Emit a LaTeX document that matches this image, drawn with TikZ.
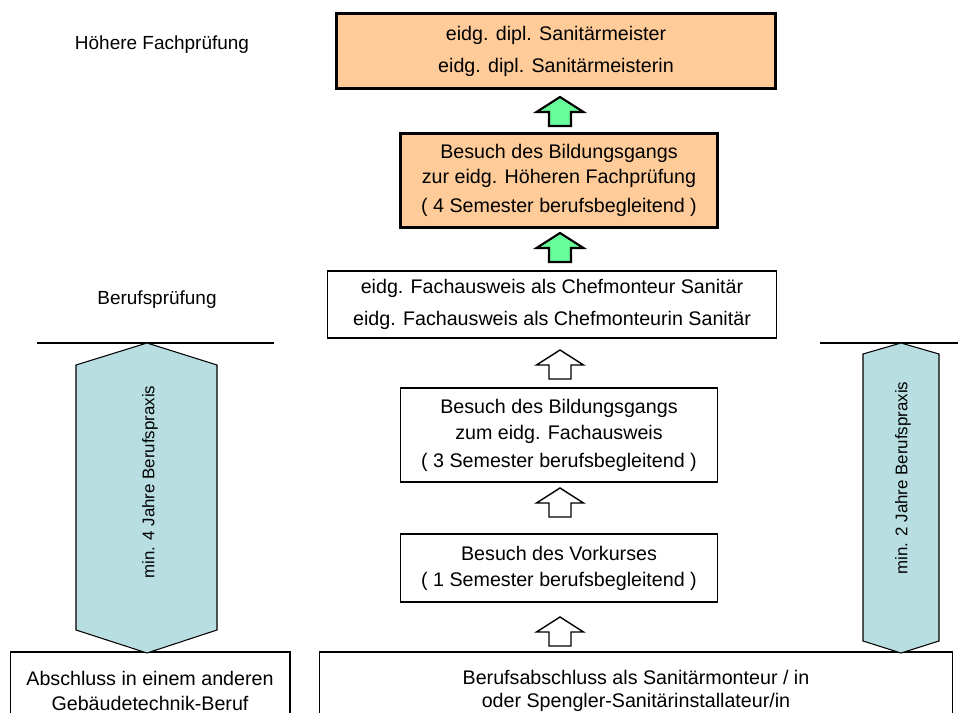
\documentclass[tikz,border=0pt]{standalone}
\usepackage{fontspec}
\setmainfont{Liberation Sans}
\usetikzlibrary{positioning}
\definecolor{peach}{RGB}{255,204,153}
\definecolor{mint}{RGB}{102,255,153}
\definecolor{praxisblue}{RGB}{184,222,226}
\tikzset{
    box/.style={draw, fill=white, line width=0.6pt, align=center, inner sep=0pt},
    hfbox/.style={box, fill=peach, line width=1.7pt},
    greenarrow/.style={draw, fill=mint, line width=1.2pt, line join=miter},
    whitearrow/.style={draw, fill=white, line width=0.8pt, line join=miter},
    praxis/.style={draw, fill=praxisblue, line width=0.6pt},
    praxistext/.style={rotate=90, font=\fontsize{9.6}{11}\selectfont},
    level/.style={font=\fontsize{10.8}{12}\selectfont}
}
\begin{document}
\begin{tikzpicture}[x=0.02cm, y=-0.02cm]
    \useasboundingbox (0,0) rectangle (958,713);

    % --- Levels ---
    \node[level] (hfp) at (162,45) {Höhere Fachprüfung};
    \node[level] (bp) at (157,300) {Berufsprüfung};
    \coordinate (sepL1) at (37,343);  \coordinate (sepL2) at (274,343);
    \coordinate (sepR1) at (820,343); \coordinate (sepR2) at (958,343);
    \draw[line width=0.6pt] (sepL1) -- (sepL2);
    \draw[line width=0.6pt] (sepR1) -- (sepR2);

    % --- Boxes, top to bottom ---
    \node[hfbox, minimum width=8.8cm, minimum height=1.5cm, font=\fontsize{11.2}{18.2}\selectfont]
        (meister) at (556,51) {eidg. dipl. Sanitärmeister\\eidg. dipl. Sanitärmeisterin};
    \node[hfbox, minimum width=6.36cm, minimum height=1.9cm, font=\fontsize{11.2}{14.2}\selectfont]
        (hfkurs) at (559,180.5) {Besuch des Bildungsgangs\\zur eidg. Höheren Fachprüfung\\[2.8pt]( 4 Semester berufsbegleitend )};
    \node[box, minimum width=9cm, minimum height=1.34cm, font=\fontsize{11.2}{18.2}\selectfont]
        (chef) at (552,304.5) {eidg. Fachausweis als Chefmonteur Sanitär\\eidg. Fachausweis als Chefmonteurin Sanitär};
    \node[box, minimum width=6.36cm, minimum height=1.88cm, font=\fontsize{11.2}{14.8}\selectfont]
        (bpkurs) at (559,435) {Besuch des Bildungsgangs\\zum eidg. Fachausweis\\[1.2pt]( 3 Semester berufsbegleitend )};
    \node[box, minimum width=6.36cm, minimum height=1.36cm, font=\fontsize{11.2}{14.8}\selectfont]
        (vorkurs) at (559,568) {Besuch des Vorkurses\\( 1 Semester berufsbegleitend )};
    \node[box, minimum width=12.68cm, minimum height=1.56cm, font=\fontsize{11.2}{13.2}\selectfont]
        (monteur) at (636,691) {Berufsabschluss als Sanitärmonteur / in\\oder Spengler-Sanitärinstallateur/in};
    \node[box, minimum width=5.6cm, minimum height=1.56cm, font=\fontsize{11.2}{14.2}\selectfont]
        (andere) at (150,691) {Abschluss in einem anderen\\Gebäudetechnik-Beruf};

    % --- Block arrows between the boxes ---
    \coordinate (up1) at (560,97);
    \coordinate (up2) at (560,233);
    \coordinate (up3) at (560,350);
    \coordinate (up4) at (560,488);
    \coordinate (up5) at (560,617);
    \foreach \p/\s in {up1/greenarrow, up2/greenarrow, up3/whitearrow, up4/whitearrow, up5/whitearrow}
        \draw[\s] (\p) -- ++(23.5,15) -- ++(-12.5,0) -- ++(0,14) -- ++(-22,0) -- ++(0,-14) -- ++(-12.5,0) -- cycle;

    % --- Berufspraxis ---
    \draw[praxis] (147,343) -- (217,365) -- (217,630) -- (147,653) -- (76,630) -- (76,365) -- cycle;
    \node[praxistext] (praxis4) at (150,482) {min. 4 Jahre Berufspraxis};
    \draw[praxis] (901,343) -- (939,354) -- (939,641) -- (901,653) -- (863,641) -- (863,354) -- cycle;
    \node[praxistext] (praxis2) at (903,478) {min. 2 Jahre Berufspraxis};
\end{tikzpicture}
\end{document}
